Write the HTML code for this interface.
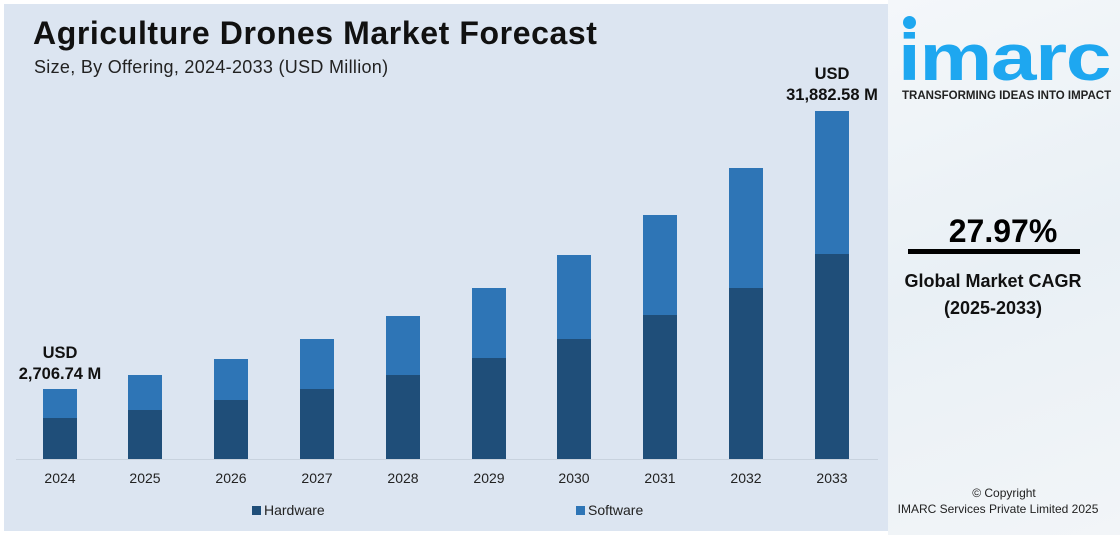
<!DOCTYPE html>
<html><head><meta charset="utf-8"><style>
body{margin:0;width:1120px;height:535px;background:#fff;position:relative;overflow:hidden;font-family:"Liberation Sans",sans-serif}
.panel{position:absolute;left:4px;top:4px;width:884px;height:527px;background:#dce5f1}
.side{position:absolute;left:888px;top:0;width:232px;height:535px;background:linear-gradient(160deg,#f4f7fa,#e9f0f5 50%,#f2f5f8)}
.t{position:absolute;white-space:nowrap}
</style></head><body>
<div class="panel"></div>
<div class="side"></div>
<div class="t" style="left:33px;top:15px;font-size:32px;font-weight:bold;color:#111;letter-spacing:0.6px">Agriculture Drones Market Forecast</div>
<div class="t" style="left:34px;top:57px;font-size:18px;color:#222;letter-spacing:0.3px">Size, By Offering, 2024-2033 (USD Million)</div>
<svg style="position:absolute;left:0;top:0" width="888" height="535">
<line x1="16" y1="459.5" x2="878" y2="459.5" stroke="#c8d2de" stroke-width="1"/>
<g id="bars"></g>
<g font-family="Liberation Sans" font-size="14" fill="#222" text-anchor="middle">
<text x="60" y="483">2024</text><text x="145" y="483">2025</text><text x="231" y="483">2026</text><text x="317" y="483">2027</text><text x="403" y="483">2028</text><text x="489" y="483">2029</text><text x="574" y="483">2030</text><text x="660" y="483">2031</text><text x="746" y="483">2032</text><text x="832" y="483">2033</text>
</g>
<g font-family="Liberation Sans" font-size="16.5" font-weight="bold" fill="#111" text-anchor="middle">
<text x="60" y="358">USD</text><text x="60" y="379">2,706.74 M</text>
<text x="832" y="79">USD</text><text x="832" y="100">31,882.58 M</text>
</g>
<rect x="252" y="506" width="9" height="9" fill="#1f4e79"/>
<text x="264" y="515" font-family="Liberation Sans" font-size="14" fill="#222">Hardware</text>
<rect x="576" y="506" width="9" height="9" fill="#2e75b6"/>
<text x="588" y="515" font-family="Liberation Sans" font-size="14" fill="#222">Software</text>
</svg>
<script>
var xs=[60,145,231,317,403,489,574,660,746,832],tot=[389,375,359,339,316,288,255,215,168,111],hw=[418,410,400,389,375,358,339,315,288,254],s='';
for(var i=0;i<10;i++){s+='<rect x="'+(xs[i]-17)+'" y="'+tot[i]+'" width="34" height="'+(hw[i]-tot[i])+'" fill="#2e75b6"/><rect x="'+(xs[i]-17)+'" y="'+hw[i]+'" width="34" height="'+(459-hw[i])+'" fill="#1f4e79"/>';}
document.getElementById('bars').innerHTML=s;
</script>
<div style="position:absolute;left:903px;top:16px;width:13px;height:13px;border-radius:50%;background:#1ea7f0"></div>
<div class="t" style="left:898px;top:24px;font-size:66px;font-weight:bold;color:#1ea7f0;line-height:1;transform:scaleX(1.24);transform-origin:left;letter-spacing:-1px">imarc</div>
<div class="t" style="left:902px;top:90px;font-size:11.5px;font-weight:bold;color:#222">TRANSFORMING IDEAS INTO IMPACT</div>
<div class="t" style="left:888px;width:230px;top:213px;text-align:center;font-size:32px;font-weight:bold;color:#000">27.97%</div>
<div style="position:absolute;left:908px;top:249px;width:172px;height:5px;background:#000"></div>
<div class="t" style="left:888px;width:210px;top:271px;text-align:center;font-size:18px;font-weight:bold;color:#111">Global Market CAGR</div>
<div class="t" style="left:888px;width:210px;top:298px;text-align:center;font-size:18px;font-weight:bold;color:#111">(2025-2033)</div>
<div class="t" style="left:888px;width:232px;top:486px;text-align:center;font-size:12px;color:#222">© Copyright</div>
<div class="t" style="left:888px;width:220px;top:502px;text-align:center;font-size:12px;color:#222">IMARC Services Private Limited 2025</div>
</body></html>
